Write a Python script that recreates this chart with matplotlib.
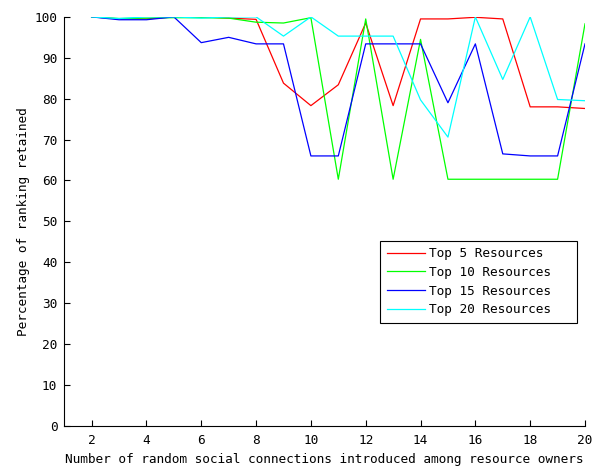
import numpy as np
import matplotlib
matplotlib.use('Agg')
import matplotlib.pyplot as plt

# number of random social connections
x = np.arange(2, 21)

top5 = [100, 99.5, 99.5, 100, 100, 99.7, 99.4, 83.8, 78.3, 83.4, 98.5, 78.3, 99.5, 99.5, 99.9, 99.5, 78, 78, 77.6]
top10 = [100, 99.6, 99.7, 99.8, 99.8, 99.7, 98.7, 98.5, 99.8, 60.3, 99.5, 60.3, 94.5, 60.3, 60.3, 60.3, 60.3, 60.3, 98.3]
top15 = [100, 99.3, 99.3, 100, 93.7, 95, 93.4, 93.4, 66, 66, 93.4, 93.4, 93.4, 79, 93.4, 66.5, 66, 66, 93.4]
top20 = [100, 99.6, 100, 100, 99.7, 100, 100, 95.3, 100, 95.3, 95.3, 95.3, 79.7, 70.6, 100, 84.7, 100, 79.8, 79.5]

labels = ['Top 5 Resources', 'Top 10 Resources', 'Top 15 Resources', 'Top 20 Resources']
colors = ['#ff0000', '#00ff00', '#0000ff', '#00ffff']

plt.rcParams['font.family'] = 'DejaVu Sans Mono'
plt.rcParams['font.size'] = 9.2

fig = plt.figure(figsize=(6, 4.69), dpi=100)
ax = fig.add_axes([0.107, 0.092, 0.868, 0.872])

for ys, lab, c in zip([top5, top10, top15, top20], labels, colors):
    ax.plot(x, ys, color=c, linewidth=0.9, label=lab)

ax.set_xlim(1, 20)
ax.set_ylim(0, 100)
ax.set_xticks(np.arange(2, 21, 2))
ax.set_yticks(np.arange(0, 101, 10))
ax.tick_params(direction='in', length=4, width=0.8, top=False, right=False, pad=5)
ax.tick_params(axis='x', pad=6)
ax.spines['top'].set_visible(False)
ax.spines['right'].set_visible(False)
ax.set_xlabel('Number of random social connections introduced among resource owners', labelpad=4)
ax.set_ylabel('Percentage of ranking retained', labelpad=3)

leg = ax.legend(loc='lower left', bbox_to_anchor=(0.607, 0.252, 0.378, 0.208), mode='expand',
                handlelength=3.0, fancybox=False, framealpha=1, edgecolor='black',
                borderpad=0.5, labelspacing=0.45, handletextpad=0.3, borderaxespad=0)
leg.get_frame().set_linewidth(0.8)

fig.savefig('out.png', dpi=100)
